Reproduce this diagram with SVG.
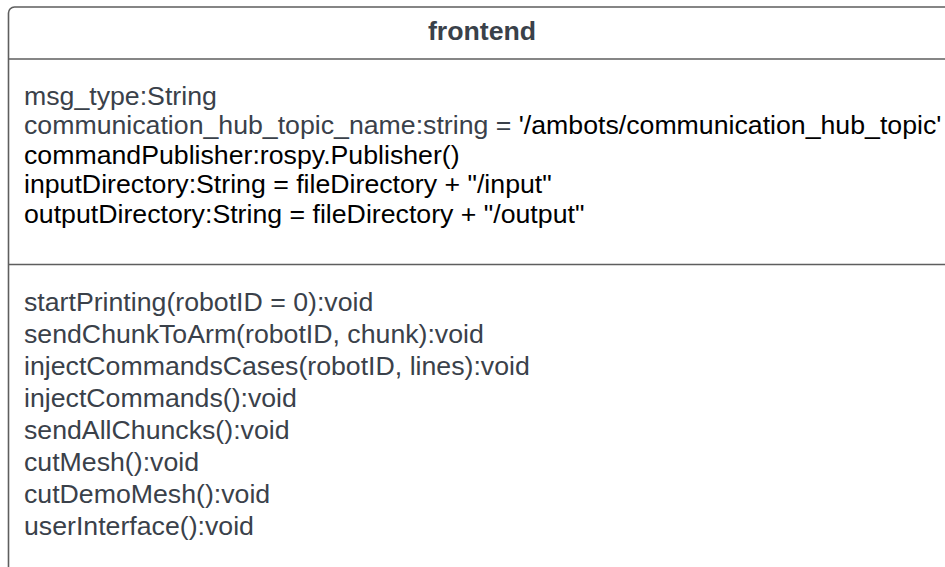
<svg xmlns="http://www.w3.org/2000/svg" width="945" height="567" viewBox="0 0 945 567">
<style>
.box{fill:#ffffff;stroke:#5e5e5e;stroke-width:1.6}
.div{stroke:#5e5e5e;stroke-width:1.6}
.t{font-family:"Liberation Sans",Arial,sans-serif;font-size:26.7px;fill:#3a414a}
.k{fill:#000000}
.title{font-weight:bold;text-anchor:middle}
</style>
<rect width="945" height="567" fill="#ffffff"/>
<g id="frontend">
<rect class="box" x="8.5" y="7" width="960" height="600" rx="6" ry="6"/>
<line class="div" x1="8.5" y1="59" x2="970" y2="59"/>
<line class="div" x1="8.5" y1="264.5" x2="970" y2="264.5"/>
<text class="t title" x="482" y="40">frontend</text>
<text class="t" x="24" y="105">msg_type:String</text>
<text class="t" x="24" y="134.4">communication_hub_topic_name:string = <tspan class="k">'/ambots/communication_hub_topic'</tspan></text>
<text class="t k" x="24" y="163.8">commandPublisher:rospy.Publisher()</text>
<text class="t k" x="24" y="193.2">inputDirectory:String = fileDirectory + "/input"</text>
<text class="t k" x="24" y="222.6">outputDirectory:String = fileDirectory + "/output"</text>
<text class="t" x="24" y="310.5">startPrinting(robotID = 0):void</text>
<text class="t" x="24" y="342.6">sendChunkToArm(robotID, chunk):void</text>
<text class="t" x="24" y="374.7">injectCommandsCases(robotID, lines):void</text>
<text class="t" x="24" y="406.8">injectCommands():void</text>
<text class="t" x="24" y="438.9">sendAllChuncks():void</text>
<text class="t" x="24" y="471">cutMesh():void</text>
<text class="t" x="24" y="503.1">cutDemoMesh():void</text>
<text class="t" x="24" y="535.2">userInterface():void</text>
</g>
</svg>
